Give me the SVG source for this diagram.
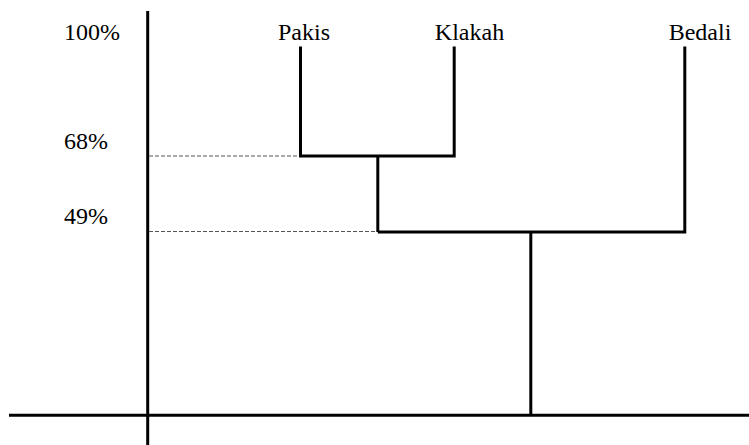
<svg xmlns="http://www.w3.org/2000/svg" width="749" height="445" viewBox="0 0 749 445">
<style>
.t{font-family:"Liberation Serif","Times New Roman",serif;font-size:24px;fill:#000}
.s{stroke:#000;stroke-width:3;fill:none}
.d{stroke:#555;stroke-width:1;stroke-dasharray:4 2;fill:none}
</style>
<rect width="749" height="445" fill="#fff"/>
<g id="axes">
<line class="s" x1="147.7" y1="11" x2="147.7" y2="445"/>
<line class="s" x1="9" y1="415.3" x2="749" y2="415.3"/>
</g>
<g id="scale-labels">
<text class="t" x="64" y="39.5">100%</text>
<text class="t" x="64" y="149">68%</text>
<text class="t" x="64" y="224">49%</text>
</g>
<g id="node-pakis"><text class="t" x="304" y="39.5" text-anchor="middle">Pakis</text></g>
<g id="node-klakah"><text class="t" x="469.5" y="39.5" text-anchor="middle">Klakah</text></g>
<g id="node-bedali"><text class="t" x="700" y="39.5" text-anchor="middle">Bedali</text></g>
<g id="connectors">
<line class="d" x1="149" y1="156" x2="300" y2="156"/>
<line class="d" x1="149" y1="231.5" x2="377" y2="231.5"/>
<polyline class="s" points="300.5,46.5 300.5,156 454.2,156 454.2,46.5"/>
<line class="s" x1="377.8" y1="156" x2="377.8" y2="232"/>
<polyline class="s" points="377.8,232 684.8,232 684.8,46.5"/>
<line class="s" x1="530.8" y1="232" x2="530.8" y2="415.3"/>
</g>
</svg>
